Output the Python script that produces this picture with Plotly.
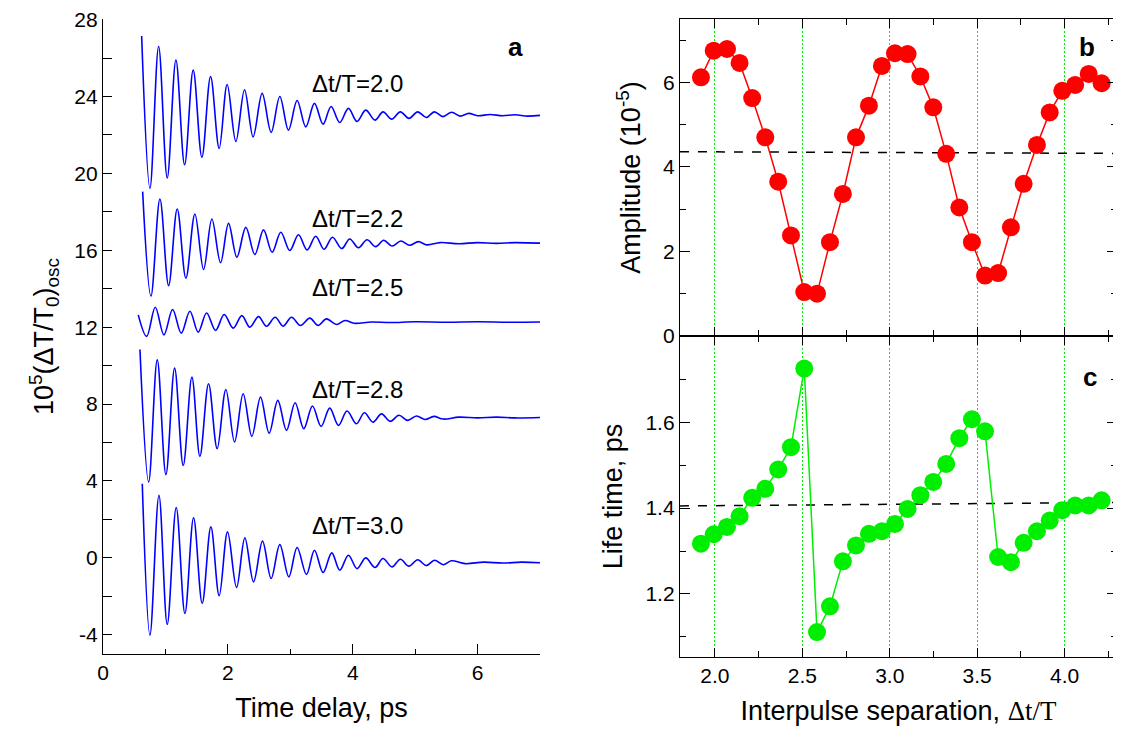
import plotly.graph_objects as go

# ---------------- Panel a: oscillation traces (extrema) ----------------
t_20 = [0.619, 0.752, 0.891, 1.029, 1.168, 1.307, 1.445, 1.584, 1.723, 1.861, 1.989, 2.128,
        2.267, 2.405, 2.549, 2.693, 2.832, 2.971, 3.109, 3.248, 3.387, 3.525, 3.653, 3.792,
        3.931, 4.069, 4.208, 4.357, 4.485, 4.624, 4.763, 4.901, 5.040, 5.179, 5.307, 5.445,
        5.584, 5.72, 5.86, 6.0, 6.2, 6.4, 6.6, 6.8, 7.0]
y_20 = [27.15, 19.22, 26.6, 19.76, 25.9, 20.45, 25.37, 20.83, 25.04, 21.30, 24.62, 21.66,
        24.35, 21.90, 24.16, 22.13, 24.00, 22.25, 23.79, 22.42, 23.64, 22.56, 23.48, 22.65,
        23.38, 22.70, 23.29, 22.77, 23.20, 22.82, 23.20, 22.86, 23.20, 22.91, 23.20, 22.95,
        23.18, 22.98, 23.12, 23.0, 23.06, 23.0, 23.05, 22.98, 23.02]

t_22 = [0.635, 0.768, 0.912, 1.051, 1.189, 1.328, 1.472, 1.611, 1.744, 1.883, 2.011, 2.144,
        2.288, 2.432, 2.571, 2.709, 2.848, 2.992, 3.131, 3.269, 3.408, 3.541, 3.675, 3.824,
        3.952, 4.091, 4.229, 4.368, 4.496, 4.63, 4.77, 4.91, 5.05, 5.19, 5.4, 5.7, 6.0,
        6.3, 6.6, 7.0]
y_22 = [19.05, 13.61, 18.67, 14.16, 18.15, 14.55, 17.89, 15.00, 17.63, 15.35, 17.40, 15.64,
        17.19, 15.78, 17.06, 15.90, 16.94, 15.99, 16.81, 16.02, 16.73, 16.05, 16.68, 16.09,
        16.59, 16.13, 16.55, 16.19, 16.52, 16.22, 16.48, 16.26, 16.45, 16.28, 16.40, 16.34,
        16.40, 16.36, 16.40, 16.37]

t_25 = [0.565, 0.699, 0.837, 0.976, 1.115, 1.253, 1.392, 1.525, 1.659, 1.803, 1.941, 2.085,
        2.224, 2.352, 2.491, 2.619, 2.757, 2.885, 3.019, 3.163, 3.312, 3.445, 3.579, 3.739,
        3.88, 4.02, 4.3, 4.6, 5.0, 5.5, 6.0, 6.5, 7.0]
y_25 = [12.64, 11.52, 13.04, 11.60, 12.92, 11.69, 12.83, 11.74, 12.74, 11.83, 12.66, 11.95,
        12.60, 12.00, 12.55, 12.05, 12.52, 12.05, 12.52, 12.09, 12.47, 12.09, 12.43, 12.14,
        12.35, 12.20, 12.27, 12.24, 12.28, 12.26, 12.28, 12.26, 12.27]

t_28 = [0.592, 0.731, 0.869, 1.008, 1.147, 1.285, 1.424, 1.552, 1.691, 1.829, 1.968, 2.107,
        2.245, 2.384, 2.523, 2.661, 2.800, 2.939, 3.077, 3.216, 3.355, 3.493, 3.632, 3.771,
        3.909, 4.059, 4.187, 4.325, 4.46, 4.60, 4.74, 4.88, 5.02, 5.16, 5.30, 5.45, 5.7,
        6.0, 6.3, 6.6, 7.0]
y_28 = [10.84, 3.95, 10.30, 4.33, 9.87, 4.81, 9.40, 5.28, 9.06, 5.68, 8.76, 6.03,
        8.54, 6.32, 8.36, 6.49, 8.19, 6.63, 8.07, 6.72, 7.90, 6.84, 7.79, 6.89,
        7.64, 6.98, 7.55, 7.06, 7.49, 7.10, 7.42, 7.15, 7.38, 7.20, 7.36, 7.22, 7.32,
        7.28, 7.32, 7.28, 7.30]

t_30 = [0.629, 0.752, 0.896, 1.029, 1.173, 1.312, 1.451, 1.589, 1.728, 1.861, 1.995, 2.139,
        2.272, 2.411, 2.555, 2.693, 2.832, 2.976, 3.109, 3.259, 3.387, 3.525, 3.664, 3.792,
        3.931, 4.069, 4.208, 4.357, 4.485, 4.629, 4.763, 4.90, 5.04, 5.18, 5.31, 5.45, 5.58,
        5.8, 6.1, 6.4, 6.7, 7.0]
y_30 = [3.86, -4.02, 3.26, -3.46, 2.62, -2.89, 2.09, -2.37, 1.61, -1.97, 1.35, -1.54,
        1.04, -1.25, 0.87, -1.07, 0.69, -0.99, 0.54, -0.86, 0.40, -0.76, 0.26, -0.64,
        0.14, -0.56, 0.00, -0.50, -0.03, -0.47, -0.07, -0.43, -0.10, -0.40, -0.12, -0.36, -0.15,
        -0.30, -0.22, -0.27, -0.22, -0.25]

trace_labels = ["Δt/T=2.0", "Δt/T=2.2", "Δt/T=2.5", "Δt/T=2.8", "Δt/T=3.0"]
label_t = [3.31, 3.31, 3.31, 3.31, 3.31]
label_y = [24.7, 17.63, 14.08, 8.76, 1.66]

a_ytick_vals = [-4, -2, 0, 2, 4, 6, 8, 10, 12, 14, 16, 18, 20, 22, 24, 26, 28]
a_ytick_text = ["-4", " ", "0", " ", "4", " ", "8", " ", "12", " ", "16", " ", "20", " ", "24", " ", "28"]

# ---------------- Panels b and c ----------------
sep = [1.92, 1.993, 2.069, 2.141, 2.213, 2.288, 2.362, 2.435, 2.511, 2.584, 2.658, 2.732,
       2.807, 2.881, 2.955, 3.030, 3.102, 3.175, 3.249, 3.323, 3.398, 3.470, 3.545, 3.620,
       3.693, 3.766, 3.842, 3.915, 3.987, 4.061, 4.138, 4.212]
amplitude = [6.12, 6.75, 6.79, 6.46, 5.63, 4.70, 3.65, 2.38, 1.04, 1.00, 2.22, 3.36,
             4.70, 5.45, 6.39, 6.69, 6.67, 6.14, 5.41, 4.31, 3.04, 2.22, 1.43, 1.49,
             2.57, 3.60, 4.52, 5.29, 5.80, 5.94, 6.20, 5.98]
lifetime = [1.317, 1.339, 1.356, 1.381, 1.424, 1.445, 1.490, 1.542, 1.725, 1.111, 1.171, 1.276,
            1.313, 1.340, 1.346, 1.363, 1.398, 1.430, 1.461, 1.503, 1.563, 1.607, 1.579, 1.286,
            1.274, 1.319, 1.346, 1.371, 1.395, 1.406, 1.406, 1.418]

amp_mean_x = [1.8, 4.3]
amp_mean_y = [4.36, 4.32]
life_mean_x = [1.8, 4.3]
life_mean_y = [1.405, 1.413]

b_ytick_vals = [0, 2, 4, 6]
c_ytick_vals = [1.2, 1.4, 1.6]
bc_xtick_vals = [2.0, 2.5, 3.0, 3.5, 4.0]
bc_xtick_text = ["2.0", "2.5", "3.0", "3.5", "4.0"]

FONT = "Arial, 'Liberation Sans', sans-serif"
BLUE = "#0000ff"
RED = "#ff0000"
GREEN = "#00ee00"

fig = go.Figure()

for t, y in [(t_20, y_20), (t_22, y_22), (t_25, y_25), (t_28, y_28), (t_30, y_30)]:
    fig.add_trace(go.Scatter(x=t, y=y, mode="lines", xaxis="x", yaxis="y",
                             line=dict(color=BLUE, width=1.6, shape="spline", smoothing=1.0),
                             showlegend=False, hoverinfo="skip"))

fig.add_trace(go.Scatter(x=amp_mean_x, y=amp_mean_y, mode="lines", xaxis="x2", yaxis="y2",
                         line=dict(color="black", width=1.5, dash="dash"), showlegend=False))
fig.add_trace(go.Scatter(x=sep, y=amplitude, mode="lines+markers", xaxis="x2", yaxis="y2",
                         line=dict(color=RED, width=1.5),
                         marker=dict(color=RED, size=18, line=dict(width=0)), showlegend=False))

fig.add_trace(go.Scatter(x=life_mean_x, y=life_mean_y, mode="lines", xaxis="x3", yaxis="y3",
                         line=dict(color="black", width=1.5, dash="dash"), showlegend=False))
fig.add_trace(go.Scatter(x=sep, y=lifetime, mode="lines+markers", xaxis="x3", yaxis="y3",
                         line=dict(color=GREEN, width=1.5),
                         marker=dict(color=GREEN, size=18, line=dict(width=0)), showlegend=False))

tickfont = dict(family=FONT, size=21, color="black")
titlefont = dict(family=FONT, size=27, color="black")

common = dict(showline=True, linecolor="black", linewidth=1.3, ticks="inside",
              tickcolor="black", tickwidth=1.3, tickfont=tickfont, zeroline=False,
              automargin=False, ticklabeloverflow="allow")

split = (655 - 334) / 638.0

gridopts = dict(showgrid=True, gridcolor=GREEN, griddash="2px,2px", gridwidth=1.2)

fig.update_layout(
    width=1121, height=742,
    margin=dict(l=95, r=12, t=11, b=93),
    paper_bgcolor="white", plot_bgcolor="white",
    font=dict(family=FONT, color="black"),
    xaxis=dict(domain=[0, 0.431], range=[0, 7], anchor="y", dtick=2, tick0=0, ticklen=10,
               minor=dict(dtick=1, ticklen=5, ticks="inside", tickcolor="black", showgrid=False),
               showgrid=False, mirror=False,
               title=dict(text="Time delay, ps", font=titlefont, standoff=14), **common),
    yaxis=dict(domain=[3 / 638.0, 1], range=[-5, 28.03], anchor="x",
               tickmode="array", tickvals=a_ytick_vals, ticktext=a_ytick_text, ticklen=9,
               showgrid=False, mirror=False,
               title=dict(text="10<sup>5</sup>(ΔT/T<sub>0</sub>)<sub>osc</sub>", font=titlefont, standoff=12),
               **common),
    xaxis2=dict(domain=[0.569, 1], range=[1.8, 4.3], anchor="y2", tickmode="array",
                tickvals=bc_xtick_vals, ticklen=9,
                minor=dict(dtick=0.25, tick0=2.0, ticklen=6, ticks="inside", tickcolor="black",
                           showgrid=False),
                showticklabels=False, mirror="ticks", **gridopts, **common),
    yaxis2=dict(domain=[split, 1], range=[0, 7.5], anchor="x2", tickmode="array",
                tickvals=b_ytick_vals, ticklen=10,
                minor=dict(dtick=1, tick0=0, ticklen=6, ticks="inside", tickcolor="black",
                           showgrid=False),
                mirror="ticks", showgrid=False,
                title=dict(text="Amplitude (10<sup>-5</sup>)", font=titlefont, standoff=14), **common),
    xaxis3=dict(domain=[0.569, 1], range=[1.8, 4.3], anchor="y3", tickmode="array",
                tickvals=bc_xtick_vals, ticktext=bc_xtick_text, ticklen=9,
                minor=dict(dtick=0.25, tick0=2.0, ticklen=6, ticks="inside", tickcolor="black",
                           showgrid=False),
                mirror="ticks", **gridopts,
                title=dict(text="Interpulse separation, <span style=\"font-family:'Liberation Serif', 'Times New Roman', serif\">Δt/T</span>",
                           font=titlefont, standoff=14), **common),
    yaxis3=dict(domain=[0, split], range=[1.053, 1.801], anchor="x3", tickmode="array",
                tickvals=c_ytick_vals, ticktext=["1.2", "1.4", "1.6"], ticklen=10,
                minor=dict(dtick=0.1, tick0=1.1, ticklen=6, ticks="inside", tickcolor="black",
                           showgrid=False),
                mirror="ticks", showgrid=False,
                title=dict(text="Life time, ps", font=titlefont, standoff=14), **common),
)

annotations = []
for txt, tx, ty in zip(trace_labels, label_t, label_y):
    annotations.append(dict(x=tx, y=ty, xref="x", yref="y", text=txt, showarrow=False,
                            xanchor="left", yanchor="middle",
                            font=dict(family=FONT, size=24, color="black")))
for letter, px, py in [("a", 0.407, 0.956), ("b", 0.970, 0.956), ("c", 0.973, 0.439)]:
    annotations.append(dict(x=px, y=py, xref="paper", yref="paper", text=f"<b>{letter}</b>",
                            showarrow=False, xanchor="center", yanchor="middle",
                            font=dict(family=FONT, size=26, color="black")))
fig.update_layout(annotations=annotations)

fig.write_html("out.html")
